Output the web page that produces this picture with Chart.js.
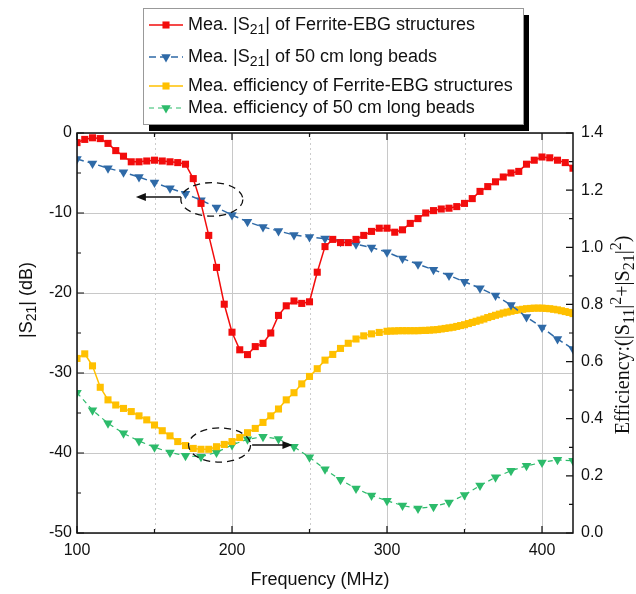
<!DOCTYPE html>
<html>
<head>
<meta charset="utf-8">
<script src="https://cdn.jsdelivr.net/npm/chart.js@4.4.1/dist/chart.umd.min.js"></script>
<style>
  body { margin: 0; background: #fff; }
  canvas { display: block; }
</style>
</head>
<body>
<canvas id="myChart" width="636" height="594"></canvas>
<script>
// frequency grids (MHz)
const freq5 = [100, 105, 110, 115, 120, 125, 130, 135, 140, 145, 150, 155, 160, 165, 170, 175, 180, 185, 190, 195,
  200, 205, 210, 215, 220, 225, 230, 235, 240, 245, 250, 255, 260, 265, 270, 275, 280, 285, 290, 295,
  300, 305, 310, 315, 320, 325, 330, 335, 340, 345, 350, 355, 360, 365, 370, 375, 380, 385, 390, 395,
  400, 405, 410, 415, 420];
const freq10 = [100, 110, 120, 130, 140, 150, 160, 170, 180, 190, 200, 210, 220, 230, 240, 250, 260, 270, 280, 290,
  300, 310, 320, 330, 340, 350, 360, 370, 380, 390, 400, 410, 420];
const freqEffEbg = [100, 105, 110, 115, 120, 125, 130, 135, 140, 145, 150, 155, 160, 165, 170, 175, 180, 185, 190, 195,
  200, 205, 210, 215, 220, 225, 230, 235, 240, 245, 250, 255, 260, 265, 270, 275, 280, 285, 290, 295, 300,
  302.5, 305, 307.5, 310, 312.5, 315, 317.5, 320, 322.5, 325, 327.5, 330, 332.5, 335, 337.5, 340, 342.5, 345, 347.5, 350,
  352.5, 355, 357.5, 360, 362.5, 365, 367.5, 370, 372.5, 375, 377.5, 380, 382.5, 385, 387.5, 390, 392.5, 395, 397.5, 400,
  402.5, 405, 407.5, 410, 412.5, 415, 417.5, 420];

// |S21| (dB)
const s21Ebg = [-1.2, -0.8, -0.6, -0.7, -1.3, -2.2, -2.9, -3.6, -3.6, -3.5, -3.4, -3.5, -3.6, -3.7, -3.9, -5.7, -8.8, -12.8, -16.8, -21.4,
  -24.9, -27.1, -27.7, -26.7, -26.3, -25.0, -22.8, -21.6, -21.0, -21.3, -21.1, -17.4, -14.2, -13.3, -13.7, -13.7, -13.3, -12.8, -12.3, -11.9,
  -11.9, -12.4, -12.1, -11.3, -10.7, -10.0, -9.7, -9.5, -9.4, -9.2, -8.8, -8.2, -7.3, -6.7, -6.1, -5.5, -5.0, -4.8, -3.9, -3.4,
  -3.0, -3.1, -3.4, -3.7, -4.4];
const s21Beads = [-3.25, -3.8, -4.4, -4.9, -5.5, -6.2, -6.9, -7.6, -8.4, -9.3, -10.25, -11.1, -11.75, -12.25, -12.75, -13.0, -13.2, -13.6, -13.9, -14.3,
  -14.9, -15.7, -16.4, -17.1, -17.8, -18.6, -19.4, -20.3, -21.5, -23.0, -24.3, -25.75, -27.0];

// efficiency
const effEbg = [0.611, 0.627, 0.585, 0.51, 0.466, 0.448, 0.436, 0.425, 0.41, 0.396, 0.378, 0.358, 0.34, 0.32, 0.306, 0.296, 0.293, 0.293, 0.302, 0.31,
  0.32, 0.334, 0.351, 0.366, 0.387, 0.41, 0.434, 0.466, 0.491, 0.522, 0.548, 0.575, 0.605, 0.625, 0.646, 0.664, 0.679, 0.69, 0.697, 0.702, 0.706,
  0.707, 0.707, 0.708, 0.708, 0.708, 0.708, 0.708, 0.708, 0.709, 0.709, 0.71, 0.711, 0.712, 0.714, 0.716, 0.718, 0.72, 0.723, 0.726, 0.729,
  0.733, 0.737, 0.741, 0.745, 0.749, 0.754, 0.758, 0.762, 0.766, 0.77, 0.773, 0.776, 0.779, 0.781, 0.783, 0.785, 0.786, 0.787, 0.787, 0.787,
  0.786, 0.785, 0.783, 0.781, 0.778, 0.775, 0.772, 0.768];
const effBeads = [0.491, 0.43, 0.384, 0.349, 0.322, 0.3, 0.282, 0.27, 0.267, 0.282, 0.308, 0.328, 0.337, 0.329, 0.302, 0.265, 0.223, 0.186, 0.156, 0.131,
  0.113, 0.096, 0.086, 0.092, 0.107, 0.133, 0.166, 0.195, 0.218, 0.235, 0.247, 0.256, 0.253];

const labels = [
  'Mea. |S_{21}| of Ferrite-EBG structures',
  'Mea. |S_{21}| of 50 cm long beads',
  'Mea. efficiency of Ferrite-EBG structures',
  'Mea. efficiency of 50 cm long beads'
];

const xMinorGrid = [150, 250, 350];

const SANS = '"Liberation Sans", Arial, sans-serif';
const SERIF = '"Liberation Serif", "Times New Roman", serif';

function pts(xs, ys) {
  return xs.map((f, i) => ({x: f, y: ys[i]}));
}

// text with _{sub} / ^{sup} parts
function parseRich(s) {
  const out = [];
  const re = /([_^])\{([^}]*)\}/g;
  let last = 0, m;
  while ((m = re.exec(s))) {
    if (m.index > last) out.push({t: s.slice(last, m.index), k: ''});
    out.push({t: m[2], k: m[1]});
    last = re.lastIndex;
  }
  if (last < s.length) out.push({t: s.slice(last), k: ''});
  return out;
}
function drawRich(ctx, s, x, y, size, family, align) {
  const parts = parseRich(s);
  const fontFor = k => (k ? Math.round(size * 0.78) : size) + 'px ' + family;
  let w = 0;
  parts.forEach(p => { ctx.font = fontFor(p.k); w += ctx.measureText(p.t).width; });
  let cx = align === 'center' ? x - w / 2 : x;
  ctx.textAlign = 'left';
  ctx.textBaseline = 'middle';
  parts.forEach(p => {
    ctx.font = fontFor(p.k);
    const dy = p.k === '_' ? size * 0.3 : p.k === '^' ? -size * 0.38 : 0;
    ctx.fillText(p.t, cx, y + dy);
    cx += ctx.measureText(p.t).width;
  });
}

const decorations = {
  id: 'decorations',
  beforeDatasetsDraw(chart) {
    const {ctx, chartArea: a, scales: {x}} = chart;
    ctx.save();
    ctx.strokeStyle = '#cccccc';
    ctx.lineWidth = 1;
    ctx.setLineDash([2, 3]);
    xMinorGrid.forEach(v => {
      const px = Math.round(x.getPixelForValue(v)) + 0.5;
      ctx.beginPath(); ctx.moveTo(px, a.top); ctx.lineTo(px, a.bottom); ctx.stroke();
    });
    ctx.restore();
  },
  afterDatasetsDraw(chart) {
    const {ctx, chartArea: a, scales: {x, y, y1}} = chart;
    ctx.save();

    // frame
    ctx.strokeStyle = '#111';
    ctx.lineWidth = 1.5;
    ctx.strokeRect(a.left, a.top, a.right - a.left, a.bottom - a.top);

    // inward ticks
    ctx.lineWidth = 1.2;
    ctx.beginPath();
    for (let v = 100; v <= 420; v += 50) {
      const px = x.getPixelForValue(v), len = v % 100 === 0 ? 7 : 4;
      ctx.moveTo(px, a.bottom); ctx.lineTo(px, a.bottom - len);
      ctx.moveTo(px, a.top); ctx.lineTo(px, a.top + len);
    }
    for (let v = -50; v <= 0; v += 5) {
      const py = y.getPixelForValue(v), len = v % 10 === 0 ? 7 : 4;
      ctx.moveTo(a.left, py); ctx.lineTo(a.left + len, py);
    }
    for (let i = 0; i <= 14; i++) {
      const py = y1.getPixelForValue(i / 10), len = i % 2 === 0 ? 7 : 4;
      ctx.moveTo(a.right, py); ctx.lineTo(a.right - len, py);
    }
    ctx.stroke();

    // dashed ellipses and arrows
    const ell = (sx, sy, cx, cy, rx, ry) => {
      const px = sx.getPixelForValue(cx), py = sy.getPixelForValue(cy);
      const rpx = Math.abs(sx.getPixelForValue(cx + rx) - px), rpy = Math.abs(sy.getPixelForValue(cy + ry) - py);
      ctx.beginPath(); ctx.ellipse(px, py, rpx, rpy, 0, 0, Math.PI * 2); ctx.stroke();
    };
    const arrow = (sx, sy, x0, x1, yv) => {
      const p0 = sx.getPixelForValue(x0), p1 = sx.getPixelForValue(x1), py = sy.getPixelForValue(yv);
      const d = Math.sign(p1 - p0);
      ctx.beginPath(); ctx.moveTo(p0, py); ctx.lineTo(p1 - d * 8, py); ctx.stroke();
      ctx.beginPath(); ctx.moveTo(p1, py); ctx.lineTo(p1 - d * 10, py - 4); ctx.lineTo(p1 - d * 10, py + 4); ctx.closePath(); ctx.fill();
    };
    ctx.strokeStyle = '#111';
    ctx.fillStyle = '#111';
    ctx.lineWidth = 1.3;
    ctx.setLineDash([7, 5]);
    ell(x, y, 187, -8.3, 20, 2.1);
    ell(x, y1, 192, 0.308, 20, 0.06);
    ctx.setLineDash([]);
    arrow(x, y, 167, 138, -8.0);
    arrow(x, y1, 213, 239, 0.308);

    // legend box with shadow
    const bx = 143, by = 8, bw = 380, bh = 116;
    ctx.fillStyle = '#000';
    ctx.fillRect(bx + 6, by + 7, bw, bh);
    ctx.fillStyle = '#fff';
    ctx.fillRect(bx, by, bw, bh);
    ctx.strokeStyle = '#999';
    ctx.lineWidth = 1;
    ctx.strokeRect(bx + 0.5, by + 0.5, bw, bh);
    const rowY = [25, 57, 86, 108];
    chart.data.datasets.forEach((ds, i) => {
      const ly = rowY[i];
      ctx.strokeStyle = ds.borderColor;
      ctx.lineWidth = ds.borderWidth;
      ctx.setLineDash(ds.borderDash || []);
      ctx.beginPath(); ctx.moveTo(149, ly); ctx.lineTo(183, ly); ctx.stroke();
      ctx.setLineDash([]);
      ctx.fillStyle = ds.borderColor;
      Chart.helpers.drawPoint(ctx, {pointStyle: ds.pointStyle, rotation: ds.pointRotation || 0, radius: ds.pointRadius, borderWidth: 0}, 166, ly);
      ctx.fillStyle = '#111';
      drawRich(ctx, ds.label, 188, ly, 18, SANS, 'left');
    });

    // axis titles
    ctx.fillStyle = '#111';
    drawRich(ctx, 'Frequency (MHz)', 320, 580, 18, SANS, 'center');
    ctx.save();
    ctx.translate(27, 300);
    ctx.rotate(-Math.PI / 2);
    drawRich(ctx, '|S_{21}| (dB)', 0, 0, 18, SANS, 'center');
    ctx.restore();
    ctx.save();
    ctx.translate(624, 335);
    ctx.rotate(-Math.PI / 2);
    drawRich(ctx, 'Efficiency:(|S_{11}|^{2}+|S_{21}|^{2})', 0, 0, 20, SERIF, 'center');
    ctx.restore();

    ctx.restore();
  }
};

const tickFont = {family: SANS, size: 16};

new Chart(document.getElementById('myChart'), {
  type: 'line',
  data: {
    datasets: [
      {
        label: labels[0],
        data: pts(freq5, s21Ebg),
        yAxisID: 'y',
        borderColor: '#f20c0c',
        backgroundColor: '#f20c0c',
        borderWidth: 1.5,
        pointStyle: 'rect',
        pointRadius: 5,
        pointBorderWidth: 0
      },
      {
        label: labels[1],
        data: pts(freq10, s21Beads),
        yAxisID: 'y',
        borderColor: '#2f6aa7',
        backgroundColor: '#2f6aa7',
        borderWidth: 1.5,
        borderDash: [7, 4],
        pointStyle: 'triangle',
        pointRotation: 180,
        pointRadius: 5.5,
        pointBorderWidth: 0
      },
      {
        label: labels[2],
        data: pts(freqEffEbg, effEbg),
        yAxisID: 'y1',
        borderColor: '#ffc000',
        backgroundColor: '#ffc000',
        borderWidth: 1.5,
        pointStyle: 'rect',
        pointRadius: 5,
        pointBorderWidth: 0
      },
      {
        label: labels[3],
        data: pts(freq10, effBeads),
        yAxisID: 'y1',
        borderColor: '#2dbb6b',
        backgroundColor: '#2dbb6b',
        borderWidth: 1.2,
        borderDash: [5, 4],
        pointStyle: 'triangle',
        pointRotation: 180,
        pointRadius: 5.5,
        pointBorderWidth: 0
      }
    ]
  },
  options: {
    responsive: false,
    animation: false,
    layout: { padding: { top: 133, left: 0, right: 0, bottom: 0 } },
    plugins: {
      legend: { display: false },
      tooltip: { enabled: false }
    },
    scales: {
      x: {
        type: 'linear',
        min: 100,
        max: 420,
        afterFit(s) { s.height = 61; },
        ticks: { stepSize: 100, includeBounds: false, padding: 8, color: '#111', font: tickFont },
        grid: { color: '#c8c8c8', drawTicks: false },
        border: { display: false }
      },
      y: {
        position: 'left',
        min: -50,
        max: 0,
        afterFit(s) { s.width = 77; },
        ticks: { stepSize: 10, padding: 5, color: '#111', font: tickFont },
        grid: { color: '#c8c8c8', drawTicks: false },
        border: { display: false }
      },
      y1: {
        position: 'right',
        min: 0,
        max: 1.4,
        afterFit(s) { s.width = 63; },
        ticks: { stepSize: 0.2, padding: 8, color: '#111', font: tickFont, callback: v => v.toFixed(1) },
        grid: { drawOnChartArea: false, drawTicks: false },
        border: { display: false }
      }
    }
  },
  plugins: [decorations]
});
</script>
</body>
</html>
